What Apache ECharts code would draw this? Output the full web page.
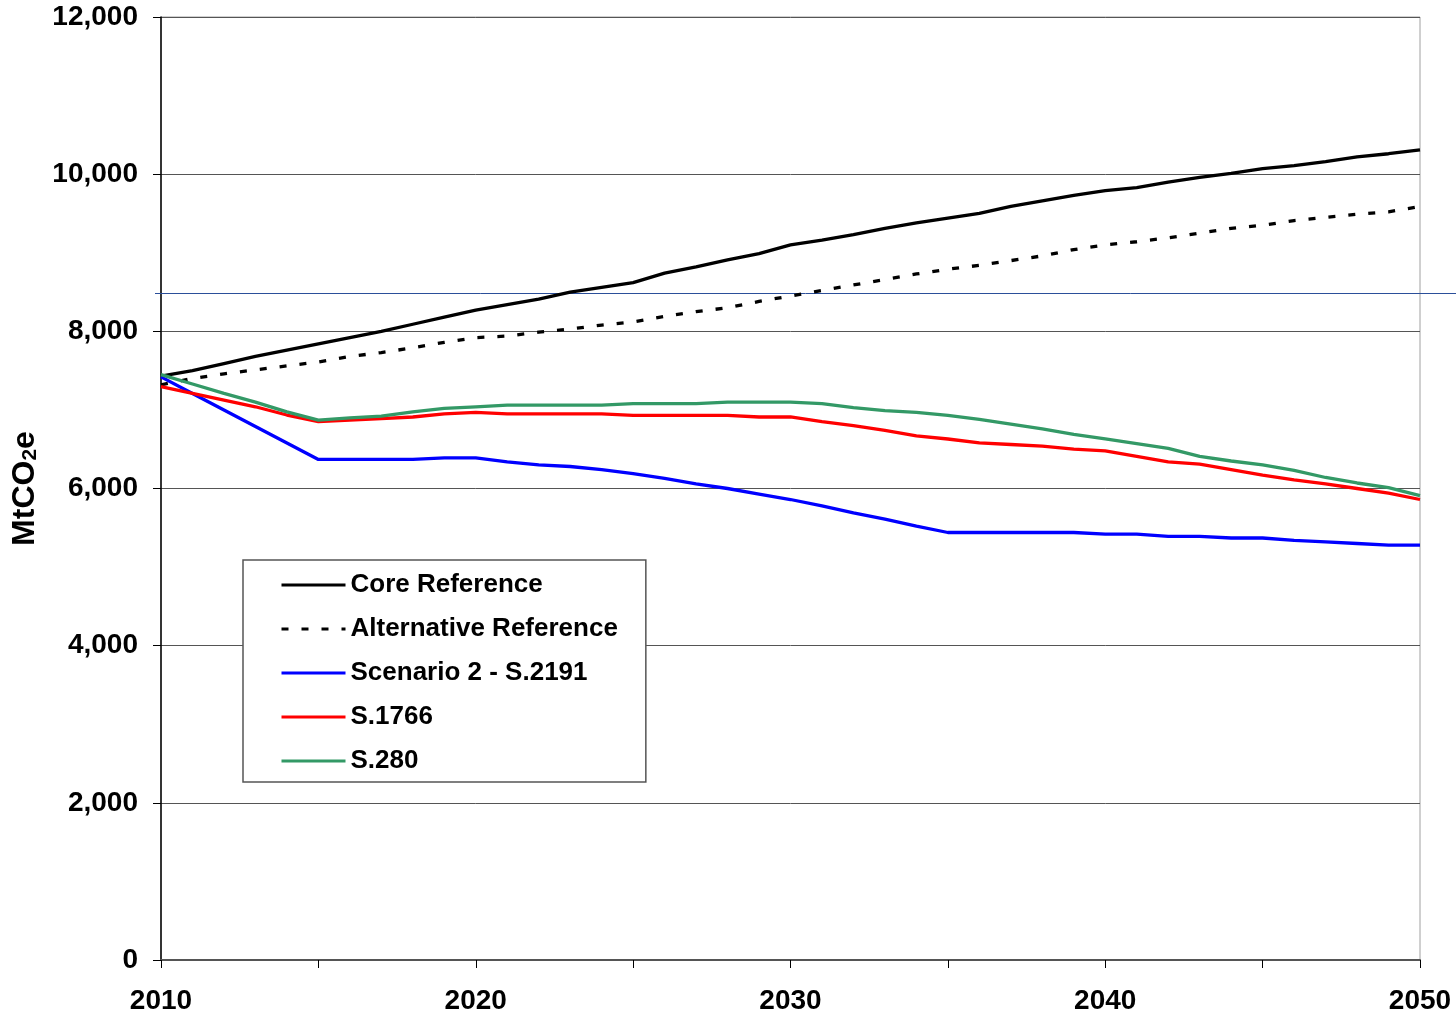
<!DOCTYPE html>
<html>
<head>
    <meta charset="UTF-8">
    <title>MtCO2e scenarios</title>
    <script src="https://cdn.jsdelivr.net/npm/echarts@6/dist/echarts.min.js"></script>
    <style>
        html, body { margin: 0; padding: 0; background: #fff; }
        #main { width: 1456px; height: 1018px; }
    </style>
</head>
<body>
<div id="main"></div>
<script type="text/javascript">
    // years 2010..2050
    var years = [];
    for (var y = 2010; y <= 2050; y++) years.push(y);

    var coreRef = [7430, 7500, 7590, 7680, 7760, 7840, 7920, 8000, 8090, 8180,
        8270, 8340, 8410, 8500, 8560, 8620, 8740, 8820, 8910, 8990,
        9100, 9160, 9230, 9310, 9380, 9440, 9500, 9590, 9660, 9730,
        9790, 9830, 9900, 9960, 10010, 10070, 10110, 10160, 10220, 10260, 10310];
    var altRef = [7320, 7400, 7460, 7510, 7560, 7610, 7680, 7730, 7790, 7860,
        7920, 7940, 7990, 8030, 8080, 8120, 8190, 8250, 8300, 8380,
        8450, 8520, 8590, 8660, 8730, 8790, 8840, 8900, 8960, 9040,
        9100, 9140, 9190, 9250, 9310, 9350, 9410, 9450, 9490, 9520, 9590];
    var s2191 = [7420, 7210, 7000, 6790, 6580, 6370, 6370, 6370, 6370, 6390,
        6390, 6340, 6300, 6280, 6240, 6190, 6130, 6060, 6000, 5930,
        5860, 5780, 5690, 5610, 5520, 5440, 5440, 5440, 5440, 5440,
        5420, 5420, 5390, 5390, 5370, 5370, 5340, 5320, 5300, 5280, 5280];
    var s1766 = [7295, 7210, 7125, 7040, 6935, 6850, 6870, 6890, 6910, 6950,
        6970, 6950, 6950, 6950, 6950, 6930, 6930, 6930, 6930, 6910,
        6910, 6850, 6800, 6740, 6670, 6630, 6580, 6560, 6540, 6500,
        6480, 6410, 6340, 6310, 6240, 6170, 6110, 6060, 6000, 5940, 5860];
    var s280 = [7450, 7330, 7210, 7100, 6975, 6870, 6900, 6920, 6975, 7020,
        7040, 7060, 7060, 7060, 7060, 7080, 7080, 7080, 7100, 7100,
        7100, 7080, 7030, 6990, 6970, 6930, 6880, 6820, 6760, 6690,
        6630, 6570, 6510, 6410, 6350, 6300, 6230, 6140, 6070, 6010, 5910];
    var stray = 8490; // stray horizontal line in the original

    function pairs(vals) {
        return years.map(function (yr, i) { return [yr, vals[i]]; });
    }

    var FONT = '"Liberation Sans", Arial, sans-serif';
    var myChart = echarts.init(document.getElementById('main'));

    var option = {
        animation: false,
        textStyle: { fontFamily: FONT },
        grid: {
            left: 161, right: 36, top: 17, bottom: 58,
            show: true, borderColor: '#a0a0a0', borderWidth: 1,
            backgroundColor: '#fff'
        },
        legend: {
            orient: 'vertical',
            left: 243, top: 560,
            padding: [12, 28, 8, 37],
            backgroundColor: '#fff',
            borderColor: '#555',
            borderWidth: 1.5,
            itemWidth: 64,
            itemHeight: 14,
            itemGap: 18,
            itemStyle: { opacity: 0 },
            lineStyle: { width: 3 },
            textStyle: { fontFamily: FONT, fontWeight: 'bold', fontSize: 26, color: '#000', lineHeight: 26 },
            data: ['Core Reference', 'Alternative Reference', 'Scenario 2 - S.2191', 'S.1766', 'S.280']
        },
        xAxis: {
            type: 'value',
            min: 2010, max: 2050, interval: 5,
            axisLine: { lineStyle: { color: '#555', width: 2 } },
            axisTick: { show: true, length: 8, lineStyle: { color: '#000', width: 1 } },
            axisLabel: {
                margin: 27,
                fontSize: 28, fontWeight: 'bold', color: '#000', fontFamily: FONT,
                formatter: function (v) { return v % 10 === 0 ? String(v) : ''; }
            },
            splitLine: { show: false }
        },
        yAxis: {
            type: 'value',
            min: 0, max: 12000, interval: 2000,
            name: '{a|MtCO}{s|2}{a|e}',
            nameLocation: 'middle',
            nameGap: 117,
            nameTextStyle: {
                rich: {
                    a: { fontSize: 32, fontWeight: 'bold', color: '#000', fontFamily: FONT },
                    s: { fontSize: 21, fontWeight: 'bold', color: '#000', fontFamily: FONT, padding: [10, 0, 0, 0] }
                }
            },
            axisLine: { show: true, lineStyle: { color: '#000', width: 1.5 } },
            axisTick: { show: true, length: 8, lineStyle: { color: '#000', width: 1 } },
            axisLabel: {
                margin: 23,
                fontSize: 28, fontWeight: 'bold', color: '#000', fontFamily: FONT,
                formatter: function (v) { return v.toLocaleString('en-US'); }
            },
            splitLine: { show: true, lineStyle: { color: '#555', width: 1 } }
        },
        series: [
            {
                name: 'Core Reference', type: 'line', showSymbol: false, symbol: 'none',
                lineStyle: { color: '#000', width: 3.3 }, itemStyle: { color: '#000' },
                data: pairs(coreRef)
            },
            {
                name: 'Alternative Reference', type: 'line', showSymbol: false, symbol: 'none',
                lineStyle: { color: '#000', width: 3.3, type: [7, 13] }, itemStyle: { color: '#000' },
                data: pairs(altRef)
            },
            {
                name: 'Scenario 2 - S.2191', type: 'line', showSymbol: false, symbol: 'none',
                lineStyle: { color: '#0000ff', width: 3.3 }, itemStyle: { color: '#0000ff' },
                data: pairs(s2191)
            },
            {
                name: 'S.1766', type: 'line', showSymbol: false, symbol: 'none',
                lineStyle: { color: '#ff0000', width: 3.3 }, itemStyle: { color: '#ff0000' },
                data: pairs(s1766)
            },
            {
                name: 'S.280', type: 'line', showSymbol: false, symbol: 'none',
                lineStyle: { color: '#339966', width: 3.3 }, itemStyle: { color: '#339966' },
                data: pairs(s280)
            }
        ]
    };
    myChart.setOption(option);

    // the stray line runs past the plot to the page edge
    var py = myChart.convertToPixel({ yAxisIndex: 0 }, stray);
    var px = myChart.convertToPixel({ xAxisIndex: 0 }, 2010);
    myChart.setOption({
        graphic: [{
            type: 'line', z: 1,
            shape: { x1: px - 6, y1: Math.round(py) + 0.5, x2: 1456, y2: Math.round(py) + 0.5 },
            style: { stroke: '#2b4f9a', lineWidth: 1 }
        }]
    });
</script>
</body>
</html>
